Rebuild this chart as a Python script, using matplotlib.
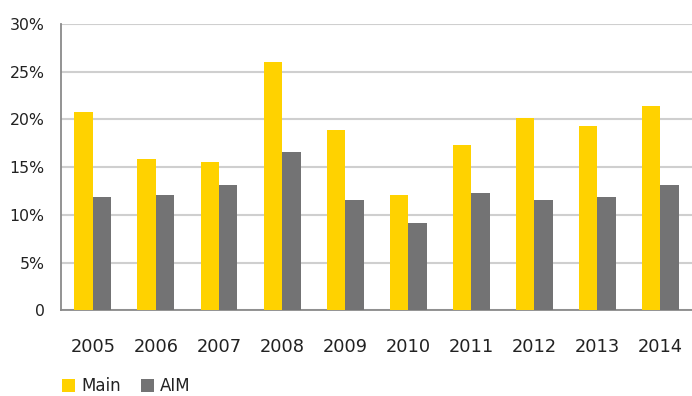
import numpy as np
from matplotlib import pyplot as plt
from matplotlib.ticker import FuncFormatter

years = ["2005", "2006", "2007", "2008", "2009", "2010", "2011", "2012", "2013", "2014"]
main_vals = [20.8, 15.8, 15.5, 25.95, 18.85, 12.05, 17.3, 20.1, 19.25, 21.35]
aim_vals = [11.85, 12.05, 13.1, 16.55, 11.6, 9.1, 12.25, 11.5, 11.85, 13.1]

plt.rcParams['font.family'] = 'DejaVu Sans'
plt.rcParams['font.size'] = 12

fig = plt.figure(figsize=(6.92, 3.96), dpi=100)
ax = fig.add_axes([0.0886, 0.2164, 0.9114, 0.7236])

x = np.arange(len(years))
w = 0.293
ax.bar(x - w/2, main_vals, w, color='#FFD200', label='Main', zorder=3)
ax.bar(x + w/2, aim_vals, w, color='#737374', label='AIM', zorder=3)

ax.set_xlim(-0.5, len(years) - 0.5)
ax.set_ylim(0, 30)
ax.set_yticks(np.arange(0, 31, 5))
ax.yaxis.set_major_formatter(FuncFormatter(lambda v, p: '0' if v == 0 else '%d%%' % v))
ax.set_xticks(x)
ax.set_xticklabels(years, fontsize=12.8)
ax.grid(axis='y', color='#CFCFCF', linewidth=1.5, zorder=0)
ax.tick_params(length=0, colors='#222222')
ax.tick_params(axis='y', pad=12, labelsize=11.3)
ax.tick_params(axis='x', pad=20)
for s in ['top', 'right']:
    ax.spines[s].set_visible(False)
for s in ['left', 'bottom']:
    ax.spines[s].set_color('#8A8A8A')
    ax.spines[s].set_linewidth(1.3)

fig.legend(loc='lower left', bbox_to_anchor=(0.068, -0.036), ncol=2, frameon=False,
           handlelength=0.8, handleheight=0.85, handletextpad=0.35, columnspacing=1.2,
           labelcolor='#222222')

fig.savefig('out.png', dpi=100)
